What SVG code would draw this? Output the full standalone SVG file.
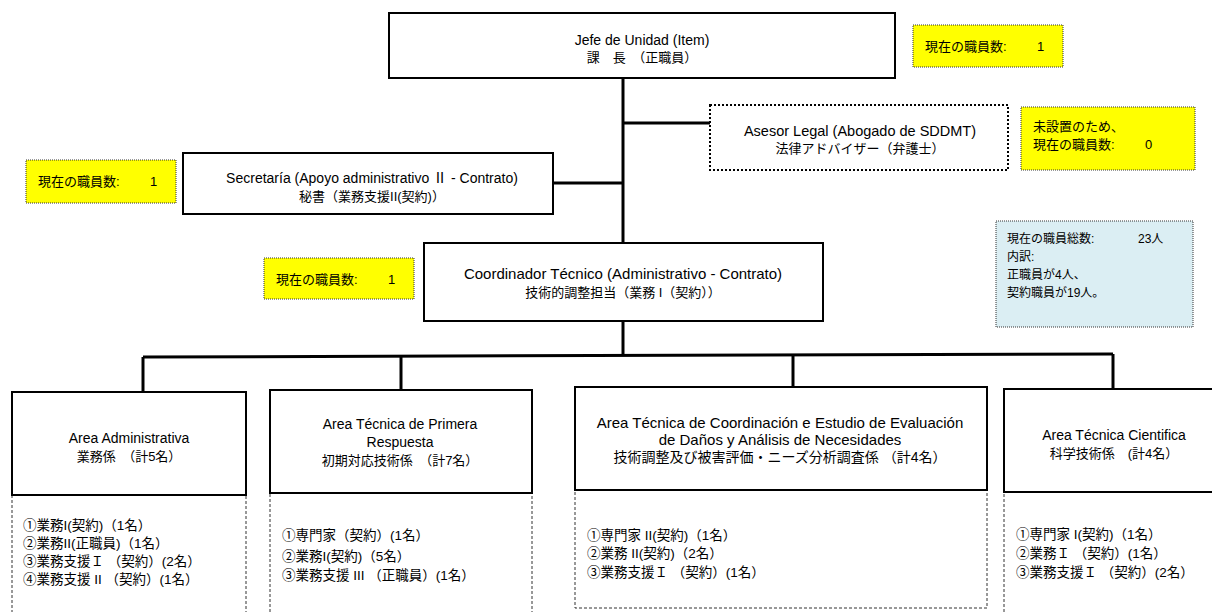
<svg xmlns="http://www.w3.org/2000/svg" width="1212" height="612" viewBox="0 0 1212 612" xml:space="preserve">
<style>
text{font-family:"Liberation Sans","Noto Sans CJK JP",sans-serif;font-size:13px;fill:#000}
.c{text-anchor:middle}
.l{font-size:14px}
.it{font-size:13.5px}
.box{fill:#fff;stroke:#000;stroke-width:2}
.dot{fill:#fff;stroke:#000;stroke-width:2;stroke-dasharray:2 2}
.yel{fill:#ffff00;stroke:#333;stroke-width:1;stroke-dasharray:1 1}
.blue{fill:#dbeef3;stroke:#333;stroke-width:1;stroke-dasharray:1 1}
.low{fill:#fff;stroke:#333;stroke-width:1;stroke-dasharray:3 2}
.ln{stroke:#000;stroke-width:3;fill:none}
</style>
<rect width="1212" height="612" fill="#fff"/>
<g id="connectors">
<path class="ln" d="M623 78V243"/>
<path class="ln" d="M623 123H710"/>
<path class="ln" d="M553 183H623"/>
<path class="ln" d="M623 321V356"/>
<path class="ln" d="M143 357L1113 354"/>
<path class="ln" d="M143 357V392"/>
<path class="ln" d="M401 356V390"/>
<path class="ln" d="M793 355V386"/>
<path class="ln" d="M1113 354V390"/>
</g>
<g id="jefe">
<rect class="box" x="389" y="13" width="506" height="65"/>
<text class="c l" x="642" y="45">Jefe  de  Unidad  (Item)</text>
<text class="c" x="642" y="62">課　長　（正職員）</text>
</g>
<g id="note-jefe">
<rect class="yel" x="913" y="25" width="150" height="42"/>
<text x="925" y="51">現在の職員数:<tspan x="1037">1</tspan></text>
</g>
<g id="asesor">
<rect class="dot" x="710" y="105" width="298" height="65"/>
<text class="c" style="font-size:14.5px" x="860" y="136">Asesor Legal  (Abogado  de  SDDMT)</text>
<text class="c" x="860" y="153">法律アドバイザー（弁護士）</text>
</g>
<g id="note-asesor">
<rect class="yel" x="1021" y="107" width="174" height="63"/>
<text x="1033" y="131">未設置のため、</text>
<text x="1033" y="149">現在の職員数:<tspan x="1145">0</tspan></text>
</g>
<g id="secretaria">
<rect class="box" x="183" y="153" width="370" height="61"/>
<text class="c l" x="372" y="183">Secretaría  (Apoyo  administrativo  Ⅱ - Contrato)</text>
<text class="c" x="372" y="201">秘書（業務支援II(契約)）</text>
</g>
<g id="note-secretaria">
<rect class="yel" x="26" y="160" width="150" height="43"/>
<text x="38" y="186">現在の職員数:<tspan x="150">1</tspan></text>
</g>
<g id="coordinador">
<rect class="box" x="424" y="243" width="399" height="78"/>
<text class="c" style="font-size:15px" x="623" y="279">Coordinador  Técnico  (Administrativo  -  Contrato)</text>
<text class="c" x="623" y="297">技術的調整担当（業務 I（契約））</text>
</g>
<g id="note-coordinador">
<rect class="yel" x="264" y="258" width="150" height="41"/>
<text x="276" y="284">現在の職員数:<tspan x="388">1</tspan></text>
</g>
<g id="resumen">
<rect class="blue" x="996" y="221" width="197" height="106"/>
<text x="1007" y="243" style="font-size:12px">現在の職員総数:<tspan x="1138">23人</tspan></text>
<text x="1007" y="261" style="font-size:12px">内訳:</text>
<text x="1007" y="279" style="font-size:12px">正職員が4人、</text>
<text x="1007" y="297" style="font-size:12px">契約職員が19人。</text>
</g>
<g id="area-administrativa">
<rect class="low" x="12" y="495" width="234" height="130"/>
<rect class="box" x="12" y="392" width="234" height="103"/>
<text class="c l" x="129" y="443">Area  Administrativa</text>
<text class="c" x="129" y="461">業務係　（計5名）</text>
<text class="it" x="23" y="530">①業務I(契約)（1名）</text>
<text class="it" x="23" y="548">②業務II(正職員)（1名）</text>
<text class="it" x="23" y="566">③業務支援Ｉ （契約）(2名）</text>
<text class="it" x="23" y="584">④業務支援 II （契約）(1名）</text>
</g>
<g id="area-primera-respuesta">
<rect class="low" x="270" y="493" width="262" height="130"/>
<rect class="box" x="270" y="390" width="262" height="103"/>
<text class="c l" x="400" y="429">Area Técnica de Primera</text>
<text class="c l" x="400" y="447">Respuesta</text>
<text class="c" x="400" y="465">初期対応技術係　（計7名）</text>
<text class="it" x="282" y="540">①専門家（契約）(1名）</text>
<text class="it" x="282" y="561">②業務I(契約)（5名）</text>
<text class="it" x="282" y="580">③業務支援 III （正職員）(1名）</text>
</g>
<g id="area-coordinacion">
<rect class="low" x="575" y="490" width="412" height="118"/>
<rect class="box" x="575" y="387" width="412" height="103"/>
<text class="c" style="font-size:15px" x="780" y="428">Area Técnica de Coordinación  e Estudio de Evaluación</text>
<text class="c" style="font-size:15px" x="780" y="445">de Daños y Análisis de Necesidades</text>
<text class="c" style="font-size:14px" x="780" y="462">技術調整及び被害評価・ニーズ分析調査係 （計4名）</text>
<text class="it" x="587" y="540">①専門家 II(契約)（1名）</text>
<text class="it" x="587" y="558">②業務 II(契約)（2名）</text>
<text class="it" x="587" y="577">③業務支援Ｉ （契約）(1名）</text>
</g>
<g id="area-cientifica">
<rect class="low" x="1004" y="492" width="220" height="130"/>
<rect class="box" x="1004" y="389" width="220" height="103"/>
<text class="c l" x="1114" y="440">Area  Técnica  Cientifica</text>
<text class="c" x="1114" y="458">科学技術係　(計4名）</text>
<text class="it" x="1016" y="539">①専門家 I(契約)（1名）</text>
<text class="it" x="1016" y="558">②業務Ｉ （契約）(1名）</text>
<text class="it" x="1016" y="577">③業務支援Ｉ （契約）(2名）</text>
</g>
</svg>
